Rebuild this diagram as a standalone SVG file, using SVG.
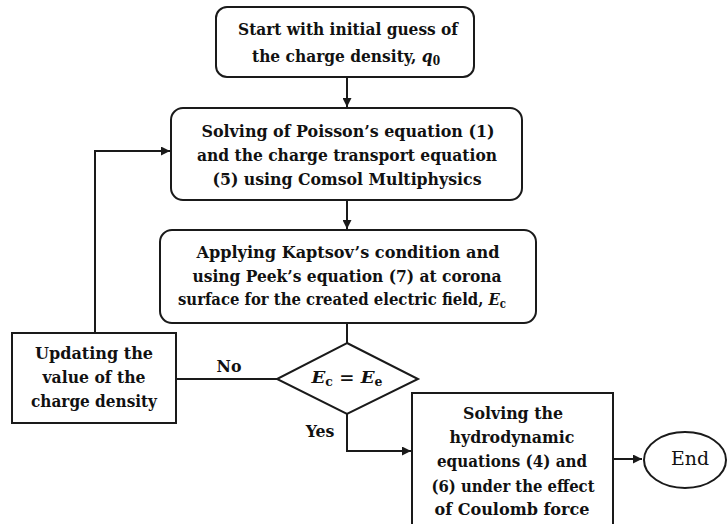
<svg xmlns="http://www.w3.org/2000/svg" width="727" height="524" viewBox="0 0 727 524">
<style>
.box{fill:#fff;stroke:#1a1a1a;stroke-width:2}
.ln{fill:none;stroke:#1a1a1a;stroke-width:2}
text{font-family:'DejaVu Serif Condensed','DejaVu Serif','Liberation Serif',serif;font-weight:700;font-size:17.5px;fill:#111;text-anchor:middle}
.r{font-weight:400;font-size:18px}
.m{font-style:italic}
.s{font-size:12px;font-style:normal}
</style>
<defs>
<marker id="ah" viewBox="0 0 10 10" refX="10" refY="5" markerWidth="10" markerHeight="9" markerUnits="userSpaceOnUse" orient="auto">
<path d="M0,0 L10,5 L0,10 Z" fill="#1a1a1a"/>
</marker>
</defs>
<rect width="727" height="524" fill="#fff"/>
<g id="connectors">
<line class="ln" x1="347" y1="77" x2="347" y2="107" marker-end="url(#ah)"/>
<line class="ln" x1="347" y1="200" x2="347" y2="229" marker-end="url(#ah)"/>
<line class="ln" x1="347" y1="323" x2="347" y2="343"/>
<line class="ln" x1="277" y1="379" x2="176" y2="379"/>
<polyline class="ln" points="95,333 95,151 170,151" marker-end="url(#ah)"/>
<polyline class="ln" points="347,414 347,451 411,451" marker-end="url(#ah)"/>
<line class="ln" x1="613" y1="459" x2="642" y2="459" marker-end="url(#ah)"/>
<text x="229" y="372">No</text>
<text x="320" y="437">Yes</text>
</g>
<g id="start">
<rect class="box" x="216" y="7" width="258" height="70" rx="11"/>
<text x="348" y="35" textLength="220" lengthAdjust="spacingAndGlyphs">Start with initial guess of</text>
<text x="346" y="62" textLength="188" lengthAdjust="spacingAndGlyphs">the charge density, <tspan class="m">q</tspan><tspan class="s" dy="3">0</tspan></text>
</g>
<g id="solve-poisson">
<rect class="box" x="171" y="108" width="351" height="92" rx="12"/>
<text x="348" y="137" textLength="293" lengthAdjust="spacingAndGlyphs">Solving of Poisson’s equation (1)</text>
<text x="347" y="161" textLength="300" lengthAdjust="spacingAndGlyphs">and the charge transport equation</text>
<text x="347" y="185" textLength="269" lengthAdjust="spacingAndGlyphs">(5) using Comsol Multiphysics</text>
</g>
<g id="kaptsov">
<rect class="box" x="160" y="230" width="376" height="93" rx="12"/>
<text x="348" y="258" textLength="303" lengthAdjust="spacingAndGlyphs">Applying Kaptsov’s condition and</text>
<text x="347" y="282" textLength="309" lengthAdjust="spacingAndGlyphs">using Peek’s equation (7) at corona</text>
<text x="342" y="305" textLength="328" lengthAdjust="spacingAndGlyphs">surface for the created electric field, <tspan class="m">E</tspan><tspan class="s" dy="3">c</tspan></text>
</g>
<g id="update">
<rect class="box" x="12" y="333" width="164" height="90"/>
<text x="94" y="359" textLength="118" lengthAdjust="spacingAndGlyphs">Updating the</text>
<text x="94" y="383" textLength="103" lengthAdjust="spacingAndGlyphs">value of the</text>
<text x="94" y="407" textLength="126" lengthAdjust="spacingAndGlyphs">charge density</text>
</g>
<g id="decision">
<polygon class="box" points="347,343 418,379 347,414 277,379"/>
<text x="347" y="383" textLength="71" lengthAdjust="spacingAndGlyphs"><tspan class="m">E</tspan><tspan class="s" dy="3">c</tspan><tspan dy="-3"> = </tspan><tspan class="m">E</tspan><tspan class="s" dy="3">e</tspan></text>
</g>
<g id="hydro">
<rect class="box" x="412" y="393" width="201" height="135"/>
<text x="513" y="419" textLength="100" lengthAdjust="spacingAndGlyphs">Solving the</text>
<text x="512" y="443" textLength="125" lengthAdjust="spacingAndGlyphs">hydrodynamic</text>
<text x="512" y="467" textLength="150" lengthAdjust="spacingAndGlyphs">equations (4) and</text>
<text x="513" y="492" textLength="163" lengthAdjust="spacingAndGlyphs">(6) under the effect</text>
<text x="512" y="515" textLength="155" lengthAdjust="spacingAndGlyphs">of Coulomb force</text>
</g>
<g id="end">
<ellipse class="box" cx="685" cy="460" rx="41" ry="28"/>
<text class="r" x="690" y="465" textLength="38" lengthAdjust="spacingAndGlyphs">End</text>
</g>
</svg>
